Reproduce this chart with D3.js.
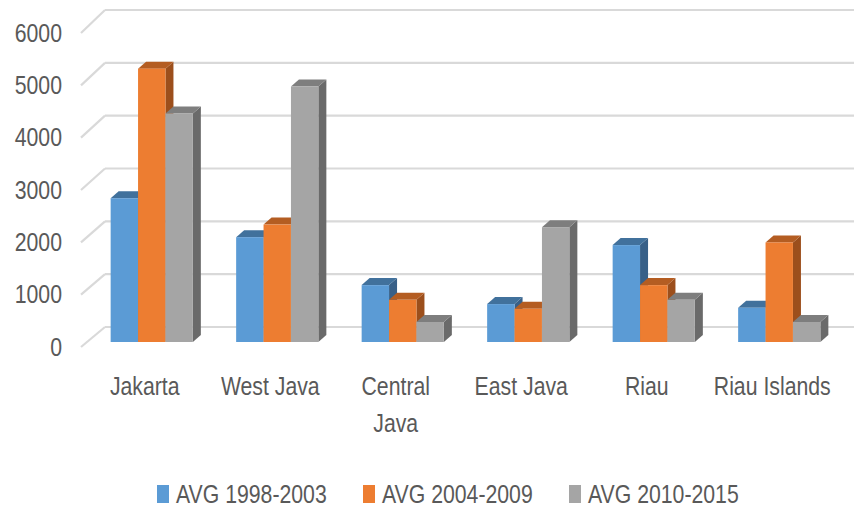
<!DOCTYPE html>
<html>
<head>
<meta charset="utf-8">
<script src="https://cdn.jsdelivr.net/npm/d3@7"></script>
<style>
  html, body { margin: 0; padding: 0; background: #ffffff; }
  svg { display: block; }
  text { font-family: 'Liberation Sans', Arial, sans-serif; fill: #595959; font-size: 25px; }
</style>
</head>
<body>
<svg id="chart" width="854" height="510"></svg>
<script>
// ---- data ----
const categories = ["Jakarta", "West Java", "Central Java", "East Java", "Riau", "Riau Islands"];
const seriesNames = ["AVG 1998-2003", "AVG 2004-2009", "AVG 2010-2015"];
const avg1998_2003 = [2730, 1990, 1080, 720, 1840, 650];
const avg2004_2009 = [5190, 2230, 800, 630, 1080, 1890];
const avg2010_2015 = [4340, 4850, 380, 2180, 800, 380];
const yTicks = [0, 1000, 2000, 3000, 4000, 5000, 6000];

const seriesValues = [avg1998_2003, avg2004_2009, avg2010_2015];
const frontColors = ["#5B9BD5", "#ED7D31", "#A5A5A5"];
const topColors = ["#41719C", "#B45D22", "#7E7E7E"];
const sideColors = ["#386088", "#9C4F1C", "#6A6A6A"];
const sx = 0.85; // horizontal text compression (narrow face)

const svg = d3.select("#chart");

// ---- scales ----
const x = d3.scaleBand().domain(categories).range([89, 842]).paddingInner(0.345).paddingOuter(0.1725);
const xs = d3.scaleBand().domain(seriesNames).range([0, x.bandwidth()]);
const yBar = d3.scaleLinear().domain([0, 6000]).range([342, 26]);
const yFront = d3.scaleLinear().domain([0, 6000]).range([347, 33]);
const yBack = d3.scaleLinear().domain([0, 6000]).range([327, 10]);
const depthX = 8, depthY = 7;
const wallLeft = 105, floorLeft = 81;

// ---- gridlines (back wall + side wall slants) ----
const grid = svg.append("g");
grid.selectAll("line.back").data(yTicks).join("line")
  .attr("x1", wallLeft).attr("x2", 854)
  .attr("y1", d => yBack(d)).attr("y2", d => yBack(d))
  .attr("stroke", "#D9D9D9").attr("stroke-width", 2.2);
grid.selectAll("line.slant").data(yTicks).join("line")
  .attr("x1", floorLeft).attr("y1", d => yFront(d))
  .attr("x2", wallLeft).attr("y2", d => yBack(d))
  .attr("stroke", "#D9D9D9").attr("stroke-width", 2.2);

// ---- y tick labels ----
svg.append("g").selectAll("text").data(yTicks).join("text")
  .attr("transform", d => `translate(62,${yFront(d)}) scale(${sx},1)`)
  .attr("text-anchor", "end").attr("dominant-baseline", "central")
  .text(d => d);

// ---- 3D bars ----
const bars = [];
categories.forEach((c, ci) => {
  seriesNames.forEach((s, si) => {
    bars.push({ c, s, si, v: seriesValues[si][ci] });
  });
});
const barG = svg.append("g");
bars.forEach(b => {
  const x0 = x(b.c) + xs(b.s);
  const w = xs.bandwidth();
  const y0 = yBar(0), y1 = yBar(b.v);
  const g = barG.append("g");
  g.append("path")
    .attr("d", `M${x0 + w},${y1} L${x0 + w + depthX},${y1 - depthY} L${x0 + w + depthX},${y0 - depthY} L${x0 + w},${y0} Z`)
    .attr("fill", sideColors[b.si]);
  g.append("path")
    .attr("d", `M${x0},${y1} L${x0 + depthX},${y1 - depthY} L${x0 + w + depthX},${y1 - depthY} L${x0 + w},${y1} Z`)
    .attr("fill", topColors[b.si]);
  g.append("rect")
    .attr("x", x0).attr("y", y1).attr("width", w).attr("height", y0 - y1)
    .attr("fill", frontColors[b.si]);
});

// ---- category labels ----
const labelLines = {
  "Central Java": ["Central", "Java"]
};
const catG = svg.append("g");
categories.forEach(c => {
  const lines = labelLines[c] || [c];
  const cx = x(c) + x.bandwidth() / 2 - 7;
  lines.forEach((ln, i) => {
    catG.append("text")
      .attr("transform", `translate(${cx},${395 + i * 37}) scale(${sx},1)`)
      .attr("text-anchor", "middle")
      .text(ln);
  });
});

// ---- legend ----
const legend = svg.append("g");
seriesNames.forEach((s, i) => {
  const lx = 157 + i * 206;
  legend.append("rect").attr("x", lx).attr("y", 485).attr("width", 12).attr("height", 18).attr("fill", frontColors[i]);
  legend.append("text").attr("transform", `translate(${lx + 19},503) scale(${sx},1)`).text(s);
});
</script>
</body>
</html>
